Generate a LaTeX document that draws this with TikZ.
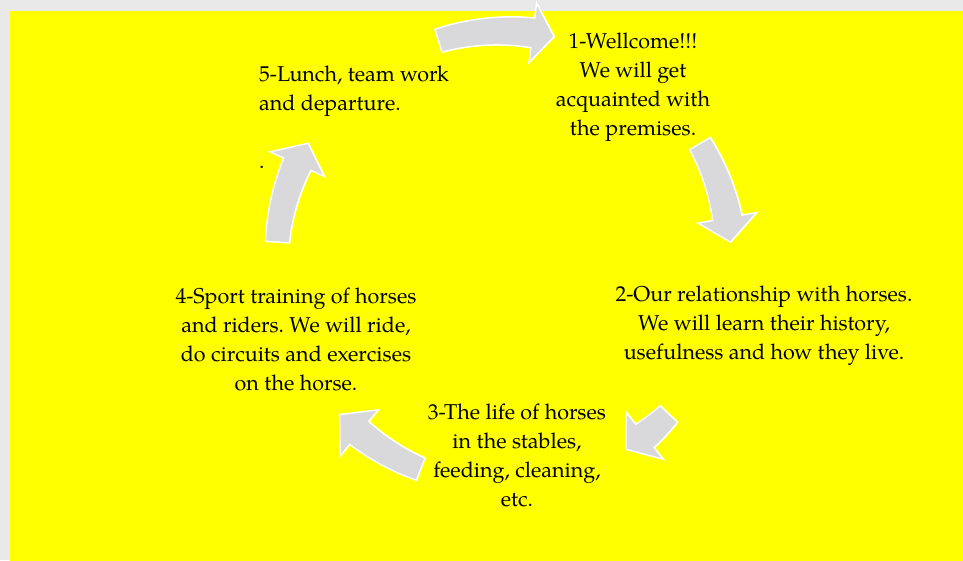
\documentclass[tikz,border=0pt]{standalone}
\usepackage{fontspec}
\setmainfont{TeX Gyre Pagella}
\frenchspacing
\definecolor{arrgray}{RGB}{217,217,219}
\definecolor{bggray}{RGB}{233,233,233}
\definecolor{yel}{RGB}{255,255,0}
\newcommand\cycarrow[3]{% #1 tail angle, #2 notch angle, #3 tip angle
  \filldraw[arr] plot[domain=0:1,samples=30] ({#1+(#2-#1)*\x}:{239+3*\x})
    -- (#2:257) -- (#3:227) -- (#2:197)
    -- plot[domain=0:1,samples=30] ({#2+(#1-#2)*\x}:{212+3*\x}) -- cycle;}
\begin{document}
\begin{tikzpicture}[x=1pt,y=1pt,
  arr/.style={fill=arrgray, draw=white, line width=1.5pt, line join=miter},
  lbl/.style={font=\fontsize{21.5}{29}\selectfont, inner sep=0pt, align=center}]
\useasboundingbox (0,0) rectangle (963,560);
\fill[bggray] (0,0) rectangle (963,560);
\fill[yel] (10,-2) rectangle (965,549);
\begin{scope}[shift={(504,302)}]
  \cycarrow{106.8}{82.7}{77.2}
  \cycarrow{30.3}{10.2}{4.0}
  \cycarrow{-43.4}{-51.6}{-57.5}
  \cycarrow{248.5}{230.4}{223.6}
  \cycarrow{176}{155.6}{149.6}
\end{scope}
\node[lbl] (t1) at (633,473) {1-Wellcome!!!\\We will get\\acquainted with\\the premises.};
\node[lbl] (t2) at (764,234) {2-Our relationship with horses.\\We will learn their history,\\usefulness and how they live.};
\node[lbl] (t3) at (517,105) {3-The life of horses\\in the stables,\\feeding, cleaning,\\etc.};
\node[lbl] (t4) at (296,221) {4-Sport training of horses\\and riders. We will ride,\\do circuits and exercises\\on the horse.};
\node[lbl, align=left, anchor=west] (t5) at (259,443) {5-Lunch, team work\\and departure.\\\mbox{}\\.};
\end{tikzpicture}
\end{document}
